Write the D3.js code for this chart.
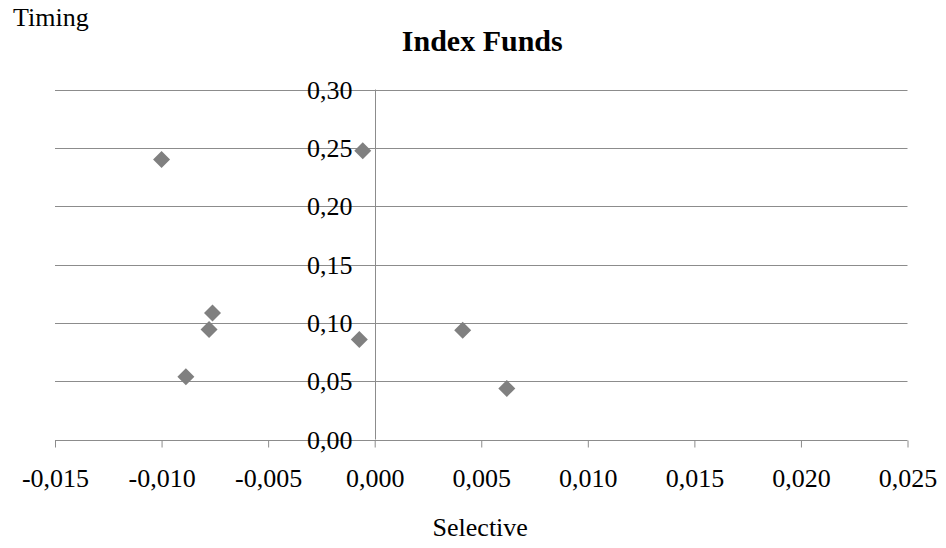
<!DOCTYPE html>
<html>
<head>
<meta charset="utf-8">
<script src="https://cdn.jsdelivr.net/npm/d3@7"></script>
<style>
  html, body { margin: 0; padding: 0; background: #ffffff; }
  svg, svg text { font-family: "Liberation Serif", "Times New Roman", serif !important; }
</style>
</head>
<body>
<div id="chart"></div>
<script>
// Selective vs. timing coefficients of index funds
const selective = [-0.0100, -0.00056, -0.00761, -0.00777, -0.00886, -0.00072, 0.00413, 0.0062];
const timing    = [0.240, 0.2474, 0.1085, 0.0943, 0.0537, 0.0857, 0.0937, 0.0437];
const xTicks = [-0.015, -0.010, -0.005, 0.000, 0.005, 0.010, 0.015, 0.020, 0.025];
const yTicks = [0.00, 0.05, 0.10, 0.15, 0.20, 0.25, 0.30];

const chartTitle = "Index Funds";
const xTitle = "Selective";
const yTitle = "Timing";

const width = 946, height = 548;
const plot = { left: 55, right: 907.5, top: 89.5, bottom: 439.5 };
const serif = "'Liberation Serif', 'Times New Roman', serif";

const locale = d3.formatLocale({ decimal: ",", thousands: ".", grouping: [3], currency: ["", ""], minus: "-" });
const fmtX = locale.format(".3f");
const fmtY = locale.format(".2f");

const x = d3.scaleLinear().domain([-0.015, 0.025]).range([plot.left, plot.right]);
const y = d3.scaleLinear().domain([0, 0.30]).range([plot.bottom, plot.top]);

const svg = d3.select("#chart").append("svg")
  .attr("width", width).attr("height", height)
  .attr("font-family", serif);

const lineColor = "#8c8c8c";

// horizontal gridlines
svg.append("g").selectAll("line")
  .data(yTicks.filter(d => d > 0))
  .join("line")
  .attr("x1", plot.left).attr("x2", plot.right)
  .attr("y1", d => Math.round(y(d)) + 0.5).attr("y2", d => Math.round(y(d)) + 0.5)
  .attr("stroke", lineColor).attr("stroke-width", 1);

// x axis along the bottom, ticks pointing down
const xAxis = svg.append("g")
  .attr("transform", `translate(0,${Math.round(plot.bottom) + 0.5})`)
  .call(d3.axisBottom(x).tickValues(xTicks).tickFormat(fmtX).tickSize(7).tickSizeOuter(0))
  .attr("font-family", serif);
xAxis.select(".domain").attr("stroke", lineColor).attr("d", `M${plot.left},0H${plot.right}`);
xAxis.selectAll(".tick line").attr("stroke", lineColor);
xAxis.selectAll(".tick text")
  .attr("y", 0).attr("dy", 0)
  .attr("transform", "translate(0,46)")
  .attr("fill", "#000").attr("font-size", 26)
  .attr("font-family", serif);

// y axis at selective = 0
const y0 = Math.round(x(0)) + 0.5;
svg.append("line")
  .attr("x1", y0).attr("x2", y0)
  .attr("y1", y(0.30)).attr("y2", y(0))
  .attr("stroke", lineColor).attr("stroke-width", 1);

// y tick labels, drawn over the gridlines
svg.append("g").selectAll("text")
  .data(yTicks)
  .join("text")
  .attr("x", y0 - 23)
  .attr("y", d => y(d) + 9)
  .attr("text-anchor", "end")
  .attr("font-size", 26)
  .attr("fill", "#000")
  .text(d => fmtY(d));

// diamond markers
const r = 8.5;
svg.append("g").selectAll("path")
  .data(selective.map((s, i) => ({ s, t: timing[i] })))
  .join("path")
  .attr("d", d => {
    const cx = x(d.s), cy = y(d.t);
    return `M${cx},${cy - r}L${cx + r},${cy}L${cx},${cy + r}L${cx - r},${cy}Z`;
  })
  .attr("fill", "#808080");

// titles
svg.append("text")
  .attr("x", (plot.left + plot.right) / 2 + 1).attr("y", 51)
  .attr("text-anchor", "middle")
  .attr("font-size", 30).attr("font-weight", "bold")
  .text(chartTitle);

svg.append("text")
  .attr("x", 13).attr("y", 26)
  .attr("font-size", 26)
  .text(yTitle);

svg.append("text")
  .attr("x", (plot.left + plot.right) / 2 - 1).attr("y", 536)
  .attr("text-anchor", "middle")
  .attr("font-size", 26)
  .text(xTitle);
</script>
</body>
</html>
